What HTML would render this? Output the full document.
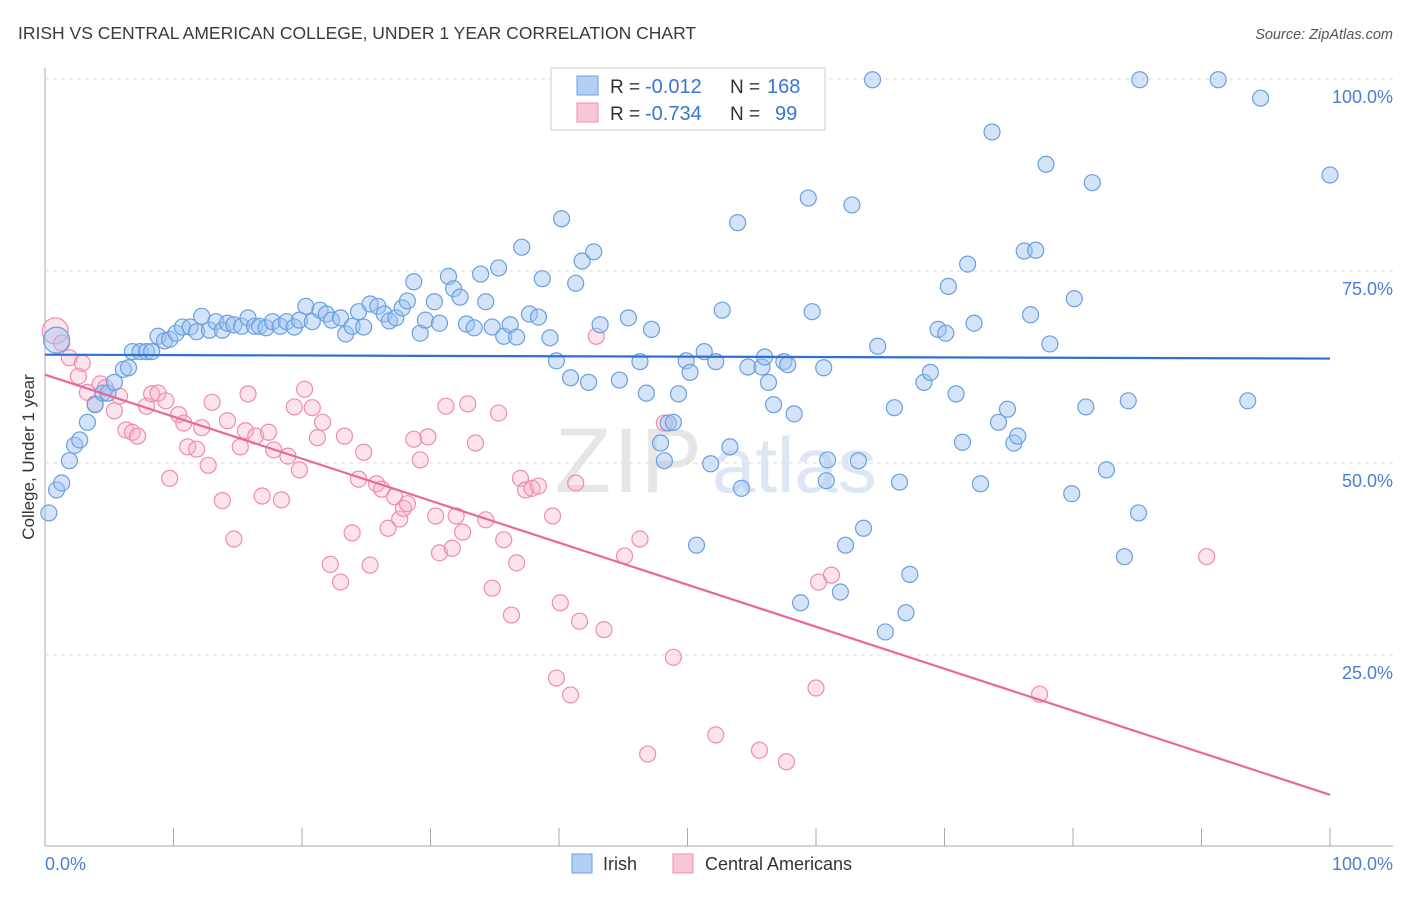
<!DOCTYPE html>
<html><head><meta charset="utf-8"><style>
body{margin:0;background:#fff;font-family:"Liberation Sans",sans-serif;}
svg text{font-family:"Liberation Sans",sans-serif;}
</style></head><body>
<svg id="chart" width="1406" height="892" xmlns="http://www.w3.org/2000/svg">
<text x="18" y="39" font-size="17.5" fill="#3a3a3a">IRISH VS CENTRAL AMERICAN COLLEGE, UNDER 1 YEAR CORRELATION CHART</text>
<text x="1393" y="39" font-size="14.5" fill="#555" text-anchor="end" font-style="italic">Source: ZipAtlas.com</text>
<text x="555" y="492" font-size="92" fill="#e6e6e6" font-family="Liberation Serif" letter-spacing="2">ZIP</text>
<text x="712" y="492" font-size="78" fill="#dde6f4">atlas</text>
<g id="grid"></g>
<g id="marks"></g>
<text transform="translate(34,457) rotate(-90)" font-size="17" fill="#333" text-anchor="middle">College, Under 1 year</text>
<text x="45" y="870" font-size="18" fill="#4a7fd6">0.0%</text>
<text x="1393" y="870" font-size="18" fill="#4a7fd6" text-anchor="end">100.0%</text>
<g>
<rect x="551" y="68" width="274" height="62" fill="#fff" stroke="#ccc"/>
<rect x="577" y="76" width="21" height="19" fill="#b3cff5" stroke="#6a9fe0"/>
<rect x="577" y="103" width="21" height="19" fill="#f9c6d8" stroke="#f08cb0"/>
<text x="610" y="93" font-size="19" fill="#333">R =</text>
<text x="645" y="93" font-size="20" fill="#3b74d0">-0.012</text>
<text x="730" y="93" font-size="19" fill="#333">N =</text>
<text x="767" y="93" font-size="20" fill="#3b74d0">168</text>
<text x="610" y="120" font-size="19" fill="#333">R =</text>
<text x="645" y="120" font-size="20" fill="#3b74d0">-0.734</text>
<text x="730" y="120" font-size="19" fill="#333">N =</text>
<text x="775" y="120" font-size="20" fill="#3b74d0">99</text>
</g>
<g>
<rect x="572" y="854" width="20" height="19" fill="#b3cff5" stroke="#6a9fe0"/>
<text x="603" y="870" font-size="18" fill="#333">Irish</text>
<rect x="673" y="854" width="20" height="19" fill="#f9c6d8" stroke="#f08cb0"/>
<text x="705" y="870" font-size="18" fill="#333">Central Americans</text>
</g>
</svg>
<script>
const yTicks=[25,50,75,100];
const yTickLabels=["25.0%","50.0%","75.0%","100.0%"];
const xTicks=[0,10,20,30,40,50,60,70,80,90,100];
const irishX=[0.3,0.9,1.3,1.9,2.3,2.7,3.3,3.9,4.5,4.9,5.4,6.1,6.5,6.8,7.4,7.9,8.3,8.8,9.3,9.7,10.2,10.7,11.3,11.8,12.2,12.8,13.3,13.8,14.2,14.7,15.3,15.8,16.3,16.7,17.2,17.7,18.3,18.8,19.4,19.8,20.3,20.8,21.4,21.9,22.3,23.0,23.4,23.9,24.4,24.8,25.3,25.9,26.4,26.8,27.3,27.8,28.2,28.7,29.2,29.6,30.3,30.7,31.4,31.8,32.3,32.8,33.4,33.9,34.3,34.8,35.3,35.7,36.2,36.7,37.1,37.7,38.4,38.7,39.3,39.8,40.2,40.9,41.3,41.8,42.3,42.7,43.2,44.7,45.4,46.3,46.8,47.2,47.9,48.2,48.5,48.9,49.3,49.9,50.2,50.7,51.3,51.8,52.2,52.7,53.3,53.9,54.2,54.7,55.8,56.0,56.3,56.7,57.5,57.8,58.3,58.8,59.4,59.7,60.6,60.9,60.8,61.9,62.3,62.8,63.3,63.7,64.8,65.4,66.1,66.5,67.0,67.3,68.4,68.9,69.5,70.1,70.3,70.9,71.4,71.8,72.3,72.8,73.7,74.2,74.9,75.4,75.7,76.2,76.7,77.1,77.9,78.2,79.9,80.1,81.0,81.5,82.6,84.0,84.3,85.1,85.2,91.3,93.6,94.6,100,64.4,0.9];
const irishY=[43.5,46.5,47.4,50.3,52.3,53.0,55.3,57.6,59.1,59.1,60.5,62.2,62.4,64.5,64.5,64.5,64.5,66.5,65.9,66.1,66.9,67.7,67.7,67.1,69.1,67.3,68.4,67.3,68.2,68.0,67.8,68.9,67.8,67.8,67.6,68.4,67.8,68.4,67.7,68.6,70.4,68.4,69.9,69.4,68.6,68.9,66.8,67.8,69.7,67.7,70.7,70.4,69.4,68.5,68.9,70.2,71.1,73.6,66.9,68.6,71.0,68.2,74.3,72.7,71.6,68.1,67.6,74.6,71.0,67.7,75.4,66.5,68.0,66.4,78.1,69.4,69.0,74.0,66.3,63.3,81.8,61.1,73.4,76.3,60.5,77.5,68.0,60.8,68.9,63.2,59.1,67.4,52.6,50.3,55.2,55.3,59.0,63.3,61.8,39.3,64.5,49.9,63.2,69.9,52.1,81.3,46.7,62.5,62.5,63.8,60.5,57.6,63.2,62.8,56.4,31.8,84.5,69.7,62.4,50.4,47.7,33.2,39.3,83.6,50.3,41.5,65.2,28.0,57.2,47.5,30.5,35.5,60.5,61.8,67.4,66.9,73.0,59.0,52.7,75.9,68.2,47.3,93.1,55.3,57.0,52.6,53.5,77.6,69.3,77.7,88.9,65.5,46.0,71.4,57.3,86.5,49.1,37.8,58.1,43.5,99.9,99.9,58.1,97.5,87.5,99.9,66.0];
const caX=[0.8,1.3,1.9,2.6,2.9,3.3,3.9,4.3,4.7,5.4,5.8,6.3,6.8,7.2,7.9,8.3,8.8,9.4,9.7,10.4,10.8,11.1,11.8,12.2,12.7,13.0,13.8,14.2,14.7,15.2,15.6,15.8,16.4,16.9,17.4,17.8,18.4,18.9,19.4,19.8,20.2,20.8,21.2,21.6,22.2,23.0,23.3,23.9,24.4,24.8,25.3,25.8,26.2,26.7,27.2,27.6,27.9,28.2,28.7,29.2,29.8,30.4,30.7,31.2,31.7,32.0,32.5,32.9,33.5,34.3,34.8,35.3,35.7,36.3,36.7,37.0,37.4,37.9,38.4,39.5,39.8,40.1,40.9,41.3,41.6,42.9,43.5,45.1,46.3,48.2,48.9,52.2,55.6,57.7,60.0,60.2,61.2,77.4,90.4,46.9];
const caY=[67.2,65.6,63.7,61.3,63.0,59.2,57.7,60.3,59.8,56.8,58.7,54.3,54.0,53.5,57.4,59.0,59.1,58.1,48.0,56.3,55.2,52.1,51.8,54.6,49.7,57.9,45.1,55.5,40.1,52.1,54.2,59.0,53.5,45.7,54.0,51.7,45.2,50.9,57.3,49.1,59.6,57.2,53.3,55.3,36.8,34.5,53.5,40.9,47.9,51.4,36.7,47.3,46.6,41.5,45.6,42.7,44.1,44.7,53.1,50.4,53.4,43.1,38.3,57.4,38.9,43.1,41.0,57.7,52.6,42.6,33.7,56.5,40.0,30.2,37.0,48.0,46.5,46.7,47.0,43.1,22.0,31.8,19.8,47.4,29.4,66.5,28.3,37.9,40.1,55.2,24.7,14.6,12.6,11.1,20.7,34.5,35.4,19.9,37.8,12.1];
const irishTrend=[64.1,63.6];
const caTrend=[61.5,6.8];

const NS="http://www.w3.org/2000/svg";
const X0=45,X1=1330,Y0=847,Y100=79;
function sx(v){return X0+(X1-X0)*v/100;}
function sy(v){return Y0-(Y0-Y100)*v/100;}
function mk(tag,attrs,parent){const e=document.createElementNS(NS,tag);for(const k in attrs)e.setAttribute(k,attrs[k]);parent.appendChild(e);return e;}
const grid=document.getElementById('grid'),marks=document.getElementById('marks');
let ax=mk('line',{x1:45,y1:68,x2:45,y2:846,stroke:'#aaa','stroke-width':1},grid);


let bx=mk('line',{x1:45,y1:846,x2:1393,y2:846,stroke:'#aaa','stroke-width':1},grid);


yTicks.forEach((t,i)=>{
 const g=mk('line',{x1:45,x2:1393,y1:sy(t),y2:sy(t),stroke:'#ddd','stroke-dasharray':'4,4'},grid);
 
 
 const l=mk('text',{x:1393,y:sy(t)+24,'font-size':18,fill:'#4a7fd6','text-anchor':'end'},grid);
 l.textContent=yTickLabels[i];
 
 
});
xTicks.forEach(t=>{
 const k=mk('line',{x1:sx(t),x2:sx(t),y1:828,y2:846,stroke:'#aaa'},grid);
 
 
});
function dots(xs,ys,fill,stroke,name,bigIdx){
 xs.forEach((x,i)=>{
  const big=(i===bigIdx);
  const c=mk('circle',{cx:sx(x),cy:sy(ys[i]),r:big?13:8,fill:fill,stroke:stroke,'stroke-width':1.2},marks);
  
  
 });
}
dots(caX,caY,'rgba(246,175,200,0.35)','#f08cb0','central-american-point',0);
dots(irishX,irishY,'rgba(160,196,240,0.45)','#6a9fe0','irish-point',irishX.length-1);
const l1=mk('line',{x1:sx(0),y1:sy(irishTrend[0]),x2:sx(100),y2:sy(irishTrend[1]),stroke:'#2f6fd0','stroke-width':2.2},marks);


const l2=mk('line',{x1:sx(0),y1:sy(caTrend[0]),x2:sx(100),y2:sy(caTrend[1]),stroke:'#e8689a','stroke-width':2.2},marks);


</script>
</body></html>
